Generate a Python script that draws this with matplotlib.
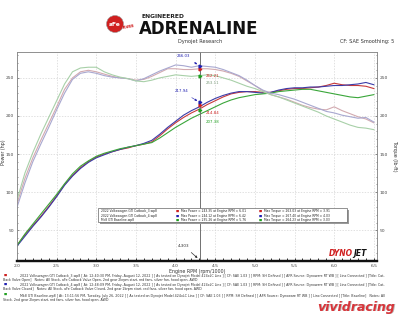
import matplotlib
matplotlib.use("Agg")
import matplotlib.pyplot as plt
from matplotlib.patches import Ellipse, Rectangle
from matplotlib.ticker import MultipleLocator

rpm = [2.0, 2.1, 2.2, 2.3, 2.4, 2.5, 2.6, 2.7, 2.8, 2.9,
       3.0, 3.1, 3.2, 3.3, 3.4, 3.5, 3.6, 3.7, 3.8, 3.9,
       4.0, 4.1, 4.2, 4.3, 4.4, 4.5, 4.6, 4.7, 4.8, 4.9,
       5.0, 5.1, 5.2, 5.3, 5.4, 5.5, 5.6, 5.7, 5.8, 5.9,
       6.0, 6.1, 6.2, 6.3, 6.4, 6.5]

power_cat3 = [30, 44, 56, 68, 81, 95, 110, 122, 132, 140,
              146, 150, 153, 156, 158, 161, 163, 166, 174, 183,
              191, 198, 204, 209, 215, 220, 225, 229, 231, 232,
              232, 231, 231, 233, 235, 236, 236, 237, 238, 240,
              243, 241, 240, 240, 239, 236]
power_cat4 = [29, 42, 55, 67, 80, 94, 109, 121, 131, 139,
              145, 149, 153, 156, 159, 161, 164, 168, 176, 185,
              193, 201, 207, 212, 218, 223, 227, 230, 232, 232,
              231, 230, 231, 234, 236, 237, 237, 238, 238, 239,
              240, 240, 241, 242, 244, 241]
power_base = [30, 45, 58, 71, 84, 97, 111, 124, 134, 141,
              147, 151, 154, 157, 159, 161, 163, 165, 171, 178,
              185, 191, 197, 202, 207, 212, 217, 221, 224, 226,
              228, 229, 230, 232, 233, 234, 235, 235, 233, 231,
              229, 227, 225, 224, 226, 228]

torque_cat3 = [85, 118, 145, 168, 190, 212, 235, 250, 258, 260,
               258, 255, 252, 250, 249, 247, 248, 252, 257, 262,
               262, 261, 261, 262, 262, 261, 259, 256, 252, 246,
               240, 233, 228, 225, 222, 218, 214, 211, 209, 208,
               212, 207, 203, 199, 196, 191]
torque_cat4 = [80, 112, 140, 163, 185, 208, 230, 248, 256, 258,
               256, 253, 251, 250, 249, 246, 249, 254, 259, 263,
               267, 266, 264, 266, 265, 264, 261, 257, 253, 247,
               240, 234, 230, 228, 225, 222, 218, 214, 210, 206,
               204, 201, 199, 197, 198, 192]
torque_base = [90, 125, 152, 176, 198, 220, 242, 258, 263, 264,
               264, 258, 254, 251, 249, 246, 245, 247, 250, 252,
               254, 253, 252, 253, 254, 253, 250, 247, 243, 239,
               236, 232, 228, 225, 221, 217, 213, 209, 205, 200,
               196, 192, 188, 185, 184, 182]

run_names = ["2022 Volkswagen GTI Catback_3.wp8",
             "2022 Volkswagen GTI Catback_4.wp8",
             "Mk8 GTI Baseline.wp8"]
max_power_text = ["Max Power = 243.35 at Engine RPM = 6.01",
                  "Max Power = 244.12 at Engine RPM = 6.42",
                  "Max Power = 235.26 at Engine RPM = 5.76"]
max_torque_text = ["Max Torque = 263.03 at Engine RPM = 3.91",
                   "Max Torque = 267.40 at Engine RPM = 4.03",
                   "Max Torque = 264.23 at Engine RPM = 3.03"]
cursor_rpm = 4.303
cursor_torque = [262.21, 266.03, 253.11]
cursor_power = [214.84, 217.94, 207.38]

power_colors = ["#c83a3a", "#3c3ca8", "#3aa63a"]
torque_colors = ["#d2aab0", "#a8a8d0", "#a8d0a8"]
marker_colors = ["#cc2020", "#2020b0", "#20a020"]

W, H = 400, 320
fig = plt.figure(figsize=(4, 3.2), dpi=100)
fig.patch.set_facecolor("white")

def fx(px):
    return px / W

def fy(py):
    return 1 - py / H

ax = fig.add_axes([fx(17), fy(261), fx(377) - fx(17), fy(52) - fy(261)])
ax.set_xlim(2.0, 6.54)
ax.set_ylim(9.5, 284)
ax2 = ax.twinx()
ax2.set_ylim(9.5, 284)

for tq, c in zip([torque_cat3, torque_cat4, torque_base], torque_colors):
    ax2.plot(rpm, tq, color=c, lw=0.8)
for pw, c in zip([power_cat3, power_cat4, power_base], power_colors):
    ax.plot(rpm, pw, color=c, lw=0.8)

ax.xaxis.set_major_locator(MultipleLocator(0.5))
ax.xaxis.set_minor_locator(MultipleLocator(0.1))
ax.yaxis.set_major_locator(MultipleLocator(50))
ax.yaxis.set_minor_locator(MultipleLocator(10))
ax2.yaxis.set_major_locator(MultipleLocator(50))
ax2.yaxis.set_minor_locator(MultipleLocator(10))
ax.grid(True, which="major", color="#d4d4d4", ls=(0, (2, 2)), lw=0.5)
for a in (ax, ax2):
    a.tick_params(which="both", direction="in", labelsize=3.2, colors="#444444",
                  length=1.5, width=0.4, pad=2)
    a.tick_params(which="minor", length=1.0)
    for s in ("left", "right", "top"):
        a.spines[s].set_color("#888888")
        a.spines[s].set_linewidth(0.5)
    a.spines["bottom"].set_color("#111111")
    a.spines["bottom"].set_linewidth(1.6)
ax.tick_params(axis="x", which="both", colors="#111111", length=2.5, width=0.6)
ax.tick_params(axis="x", labelcolor="#444444")
ax.set_xticklabels([f"{v:.1f}" for v in ax.get_xticks()])
ax.set_xlabel("Engine RPM (rpm/1000)", fontsize=3.4, color="#333333", labelpad=1)
fig.text(fx(4), fy(152), "Power (hp)", fontsize=3.4, color="#333333", rotation=90,
         ha="center", va="center")
fig.text(fx(394), fy(156), "Torque (lb-ft)", fontsize=3.4, color="#333333", rotation=-90,
         ha="center", va="center")

# cursor line
ax.axvline(cursor_rpm, color="#707070", lw=0.7)
ax.annotate(f"{cursor_rpm*1000:,.0f}", xy=(cursor_rpm, 11), xytext=(cursor_rpm - 0.2, 28),
            fontsize=3, color="#333333", ha="center",
            arrowprops=dict(arrowstyle="-|>", color="#333333", lw=0.5, mutation_scale=3))

# cursor value annotations
for i in range(3):
    ax2.plot([cursor_rpm], [cursor_torque[i]], marker=">", ms=2, color=marker_colors[i])
    ax.plot([cursor_rpm], [cursor_power[i]], marker=">", ms=2, color=marker_colors[i])
ax2.annotate(f"{cursor_torque[1]:.2f}", xy=(cursor_rpm, cursor_torque[1]),
             xytext=(cursor_rpm - 0.2, cursor_torque[1] + 11), fontsize=2.8,
             color=marker_colors[1], ha="center",
             arrowprops=dict(arrowstyle="-|>", color=marker_colors[1], lw=0.4, mutation_scale=3))
ax.annotate(f"{cursor_power[1]:.2f}", xy=(cursor_rpm, cursor_power[1]),
            xytext=(cursor_rpm - 0.23, cursor_power[1] + 13), fontsize=2.8,
            color=marker_colors[1], ha="center",
            arrowprops=dict(arrowstyle="-|>", color=marker_colors[1], lw=0.4, mutation_scale=3))
ax2.text(cursor_rpm + 0.08, cursor_torque[0] - 11, f"{cursor_torque[0]:.2f}", fontsize=2.8,
         color=marker_colors[0])
ax2.text(cursor_rpm + 0.08, cursor_torque[2] - 11, f"{cursor_torque[2]:.2f}", fontsize=2.8,
         color="#7a9a7a")
ax.text(cursor_rpm + 0.08, cursor_power[0] - 12, f"{cursor_power[0]:.2f}", fontsize=2.8,
        color=marker_colors[0])
ax.text(cursor_rpm + 0.08, cursor_power[2] - 16, f"{cursor_power[2]:.2f}", fontsize=2.8,
        color=marker_colors[2])

# legend box (in figure pixels)
lx0, ly0, lx1, ly1 = 98, 208, 347, 222
fig.patches.append(Rectangle((fx(lx0 + 1.5), fy(ly1 + 1.5)), fx(lx1 - lx0), fy(ly0) - fy(ly1),
                             transform=fig.transFigure, facecolor="#9a9a9a", edgecolor="none",
                             zorder=5))
fig.patches.append(Rectangle((fx(lx0), fy(ly1)), fx(lx1 - lx0), fy(ly0) - fy(ly1),
                             transform=fig.transFigure, facecolor="white", edgecolor="#666666",
                             lw=0.5, zorder=6))
for i in range(3):
    yy = 211.3 + i * 4.3
    fig.text(fx(lx0 + 3), fy(yy), run_names[i], fontsize=2.2, color="#222222", va="center",
             zorder=7)
    fig.text(fx(176), fy(yy), "\u25a0", fontsize=2.4, color=marker_colors[i], va="center", zorder=7)
    fig.text(fx(181), fy(yy), max_power_text[i], fontsize=2.2, color="#222222", va="center",
             zorder=7)
    fig.text(fx(259), fy(yy), "\u25a0", fontsize=2.4, color=marker_colors[i], va="center", zorder=7)
    fig.text(fx(264), fy(yy), max_torque_text[i], fontsize=2.2, color="#222222", va="center",
             zorder=7)

# Dynojet logo in plot
fig.text(fx(353), fy(254), "DYNO", fontsize=5.5, color="#d02020", fontweight="bold",
         style="italic", ha="right", va="center")
fig.text(fx(353), fy(254), "JET", fontsize=5.5, color="#111111", fontweight="bold",
         style="italic", ha="left", va="center")

# header
fig.patches.append(Ellipse((fx(115), fy(24)), fx(17), 17 / H, transform=fig.transFigure,
                           facecolor="#d02020", edgecolor="#999999", lw=0.4))
fig.text(fx(115), fy(24), "aFe", fontsize=4.3, color="white", fontweight="bold",
         ha="center", va="center")
fig.text(fx(129), fy(27), "POWER", fontsize=2.2, color="#d02020", fontweight="bold",
         ha="center", va="center", rotation=10)
fig.text(fx(141), fy(16.5), "ENGINEERED", fontsize=4.3, color="#222222", fontweight="bold",
         ha="left", va="center")
fig.text(fx(139), fy(28.5), "ADRENALINE", fontsize=12, color="#111111", fontweight="heavy",
         ha="left", va="center", family="DejaVu Sans")
fig.text(fx(200), fy(42), "Dynojet Research", fontsize=3.6, color="#333333", ha="center",
         va="center")
fig.text(fx(394), fy(42), "CF: SAE Smoothing: 5", fontsize=3.6, color="#333333", ha="right",
         va="center")

# notes
notes = [
    ("2022 Volkswagen GTI Catback_3.wp8 [ At: 12:40:30 PM, Friday, August 12, 2022 ] [ As tested on Dynojet Model 424xLC Linx ] [ CF: SAE 1.03 ] [ RPM: SH Defined ] [ AFR Source: Dynoware RT WB ] [ Linx Connected ] [Title: Cat-",
     "Back Valve Open]   Notes: All Stock, aFe Catback Valve Open, 2nd gear 2krpm start, red fans, silver fan, hood open. AWD"),
    ("2022 Volkswagen GTI Catback_4.wp8 [ At: 12:48:09 PM, Friday, August 12, 2022 ] [ As tested on Dynojet Model 424xLC Linx ] [ CF: SAE 1.03 ] [ RPM: SH Defined ] [ AFR Source: Dynoware RT WB ] [ Linx Connected ] [Title: Cat-",
     "Back Valve Closed]   Notes: All Stock, aFe Catback Valve Closed, 2nd gear 2krpm start, red fans, silver fan, hood open. AWD"),
    ("Mk8 GTI Baseline.wp8 [ At: 13:11:56 PM, Tuesday, July 26, 2022 ] [ As tested on Dynojet Model 424xLC Linx ] [ CF: SAE 1.03 ] [ RPM: SH Defined ] [ AFR Source: Dynoware RT WB ] [ Linx Connected ] [Title: Baseline]   Notes: All",
     "Stock. 2nd gear 2krpm start, red fans, silver fan, hood open. AWD"),
]
note_y = [276, 285, 295.5]
for i, (l1, l2) in enumerate(notes):
    y = note_y[i]
    fig.text(fx(4), fy(y - 1.5), "\u25a0", fontsize=2.4, color=marker_colors[i], va="center")
    fig.text(fx(20), fy(y), l1, fontsize=2.3, color="#333333", va="center")
    fig.text(fx(3), fy(y + 4), l2, fontsize=2.3, color="#333333", va="center")

# watermark
fig.text(fx(357), fy(308), "vividracing", fontsize=9, color="#aaaaaa", fontweight="heavy",
         style="italic", ha="center", va="center", alpha=0.8)
fig.text(fx(356), fy(307), "vividracing", fontsize=9, color="#d9353a", fontweight="heavy",
         style="italic", ha="center", va="center")

fig.savefig("out.png", dpi=100, facecolor="white")
